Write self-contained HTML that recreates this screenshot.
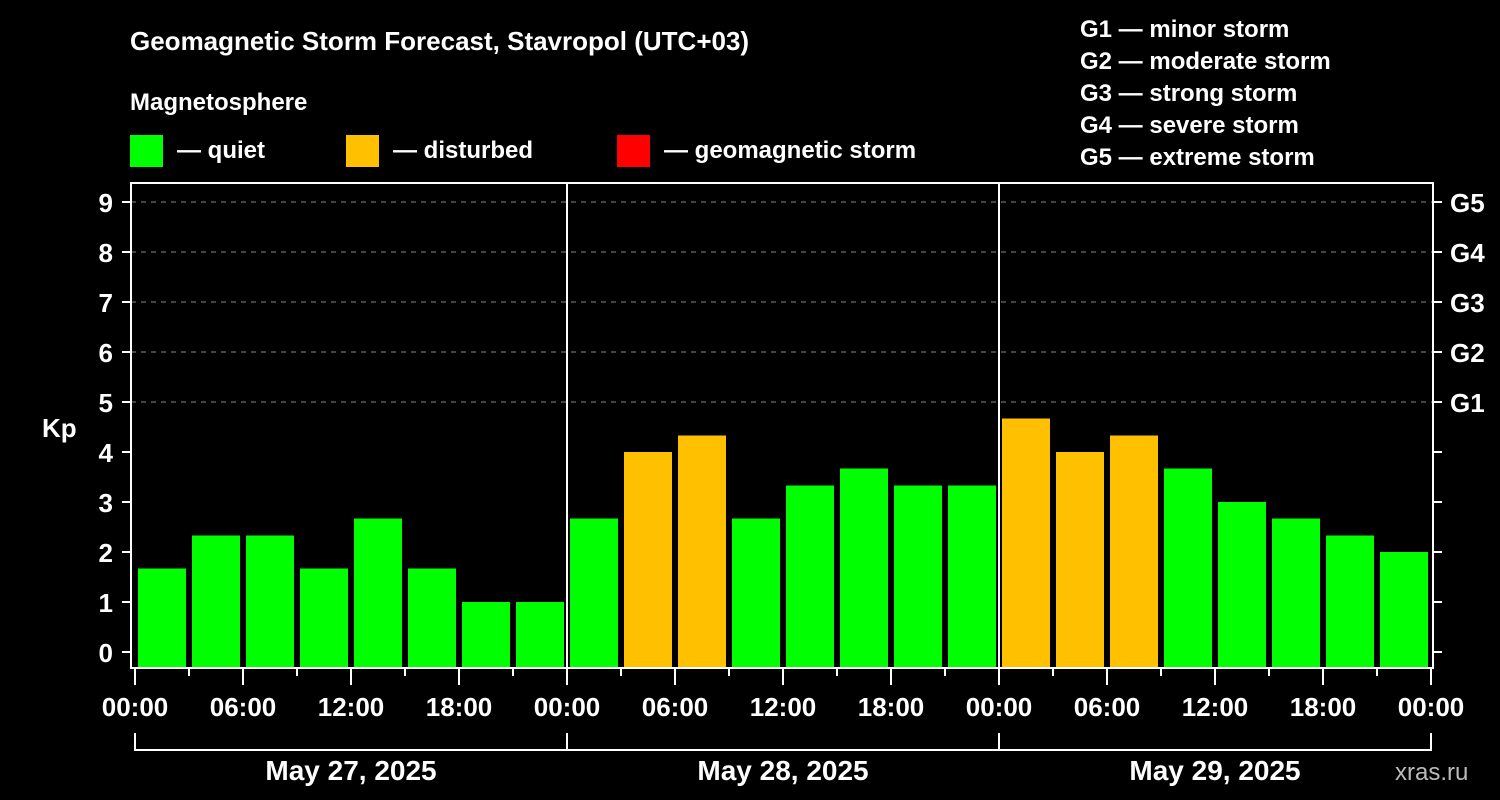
<!DOCTYPE html>
<html><head><meta charset="utf-8">
<style>
html,body{margin:0;padding:0;background:#000;}
svg{display:block;font-family:"Liberation Sans",Arial,sans-serif;font-weight:bold;}
</style></head>
<body>
<svg id="chart" width="1500" height="800" viewBox="0 0 1500 800" xmlns="http://www.w3.org/2000/svg">
<rect width="1500" height="800" fill="#000"/>
<text x="130" y="50" fill="#fff" font-size="26">Geomagnetic Storm Forecast, Stavropol (UTC+03)</text>
<text x="130" y="110" fill="#fff" font-size="24">Magnetosphere</text>
<g><rect x="130" y="135" width="33" height="32" fill="#00ff00"/><text x="177" y="158" fill="#fff" font-size="24">— quiet</text></g>
<g><rect x="346" y="135" width="33" height="32" fill="#ffc000"/><text x="393" y="158" fill="#fff" font-size="24">— disturbed</text></g>
<g><rect x="617" y="135" width="33" height="32" fill="#ff0000"/><text x="664" y="158" fill="#fff" font-size="24">— geomagnetic storm</text></g>
<g fill="#fff" font-size="24">
<text x="1080" y="37">G1 — minor storm</text>
<text x="1080" y="69">G2 — moderate storm</text>
<text x="1080" y="101">G3 — strong storm</text>
<text x="1080" y="133">G4 — severe storm</text>
<text x="1080" y="165">G5 — extreme storm</text>
</g>
<text x="42" y="437" fill="#fff" font-size="26">Kp</text>
<text x="1395" y="780" fill="#bbb" font-size="24" font-weight="normal">xras.ru</text>
<g id="grid"></g><g id="bars"></g><g id="axes"></g>
</svg>
<script>
const kpValues = [1.67,2.33,2.33,1.67,2.67,1.67,1,1, 2.67,4,4.33,2.67,3.33,3.67,3.33,3.33, 4.67,4,4.33,3.67,3,2.67,2.33,2];
const dayLabels = ["May 27, 2025","May 28, 2025","May 29, 2025"];
const hourLabels = ["00:00","06:00","12:00","18:00"];
const yTicks = [0,1,2,3,4,5,6,7,8,9];
const gLabels = ["G1","G2","G3","G4","G5"];

const NS="http://www.w3.org/2000/svg";
const X0=135, dayW=432, L=131, R=1433, T=183, B=668;
const y = v => 652 - v*50;
const xh = h => X0 + h*dayW/24;
function mk(tag, attrs, parent){const e=document.createElementNS(NS,tag);for(const k in attrs)e.setAttribute(k,attrs[k]);parent.appendChild(e);return e;}
const grid=document.getElementById('grid'), bars=document.getElementById('bars'), axes=document.getElementById('axes');

gLabels.forEach((g,i)=>{
  const v=5+i;
  const ln=mk('line',{x1:L,x2:R,y1:y(v),y2:y(v),stroke:'#888','stroke-width':1,'stroke-dasharray':'5,5'},grid);
  
  
  const t=mk('text',{x:1450,y:y(v)+10,fill:'#fff','font-size':26},axes);
  t.textContent=g;
  
  
});

kpValues.forEach((v,i)=>{
  const x=xh(i*3)+3, w=dayW/8-6;
  const r=mk('rect',{x:x,y:y(v),width:w,height:B-y(v),fill:v>=5?'#ff0000':(v>=4?'#ffc000':'#00ff00')},bars);
  
  
});

mk('rect',{x:L,y:T,width:R-L,height:B-T,fill:'none',stroke:'#fff','stroke-width':2},axes);
for(let d=1;d<dayLabels.length;d++){
  mk('line',{x1:X0+d*dayW,x2:X0+d*dayW,y1:T,y2:B,stroke:'#fff','stroke-width':2},axes);
}
yTicks.forEach(v=>{
  mk('line',{x1:122,x2:L,y1:y(v),y2:y(v),stroke:'#fff','stroke-width':2},axes);
  mk('line',{x1:R,x2:1442,y1:y(v),y2:y(v),stroke:'#fff','stroke-width':2},axes);
  const t=mk('text',{x:113,y:y(v)+10,fill:'#fff','font-size':26,'text-anchor':'end'},axes);
  t.textContent=v;
  
  
});
const nd=dayLabels.length;
for(let h=0;h<=nd*24;h+=3){
  const major=h%6===0;
  mk('line',{x1:xh(h),x2:xh(h),y1:B,y2:B+(major?17:8),stroke:'#fff','stroke-width':2},axes);
  if(major){
    const t=mk('text',{x:xh(h),y:716,fill:'#fff','font-size':26,'text-anchor':'middle'},axes);
    t.textContent=hourLabels[(h/6)%4];
    
    
  }
}
mk('line',{x1:X0,x2:X0+nd*dayW,y1:750,y2:750,stroke:'#fff','stroke-width':2},axes);
for(let d=0;d<=nd;d++) mk('line',{x1:X0+d*dayW,x2:X0+d*dayW,y1:733,y2:751,stroke:'#fff','stroke-width':2},axes);
dayLabels.forEach((s,d)=>{
  const t=mk('text',{x:X0+d*dayW+dayW/2,y:780,fill:'#fff','font-size':28,'text-anchor':'middle'},axes);
  t.textContent=s;
  
  
});
</script>
</body></html>
